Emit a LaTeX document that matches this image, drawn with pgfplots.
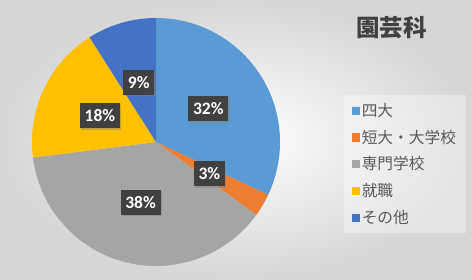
\documentclass[border=0pt]{standalone}
\usepackage{pgfplots}
\pgfplotsset{compat=1.18}
\usepackage{pgfplotstable}
\usepackage{fontspec}
\setmainfont{Carlito}
\newfontfamily\cjk{Noto Sans CJK JP}
\usetikzlibrary{shadows}
\definecolor{c0}{HTML}{5B9BD5}
\definecolor{c1}{HTML}{ED7D31}
\definecolor{c2}{HTML}{A5A5A5}
\definecolor{c3}{HTML}{FFC000}
\definecolor{c4}{HTML}{4472C4}
\definecolor{lblfill}{HTML}{404040}
\definecolor{txtgray}{HTML}{595959}
\definecolor{ttlgray}{HTML}{404040}
\tikzset{lbl/.style={fill=lblfill, text=white, font=\bfseries\fontsize{17.5}{20}\selectfont,
    inner xsep=4.8pt, minimum height=25pt,
    drop shadow={shadow xshift=1.5pt, shadow yshift=-1.5pt, opacity=0.45}}}
\pgfplotsset{sq/.style={legend image code/.code={\fill[#1, fill opacity=1] (0pt,-3.6pt) rectangle (7.2pt,3.6pt);}}}
\pgfplotstableread{
idx value
0 32
1 3
2 38
3 18
4 9
}\piedata
\begin{document}
\begin{tikzpicture}
\useasboundingbox (0pt,0pt) rectangle (472pt,-279pt);
\shade[inner color=white, outer color=black!16] (0pt,0pt) rectangle (472pt,-279pt);
\node[font=\cjk\bfseries\fontsize{23.5}{27}\selectfont, text=ttlgray] at (391.5pt,-28pt) {園芸科};
\begin{axis}[
  at={(156pt,-142pt)}, anchor=center,
  scale only axis, width=248pt, height=248pt,
  xmin=-1, xmax=1, ymin=-1, ymax=1,
  hide axis, clip=false,
  legend cell align=left,
  legend style={at={(1.258,0.6895)}, anchor=north west,
    fill=white, fill opacity=0.35, text opacity=1, draw=none,
    font=\cjk\fontsize{15.7}{19}\selectfont, text=txtgray,
    row sep=8pt, inner xsep=8pt, inner ysep=6pt,
    /tikz/every even column/.append style={column sep=3pt}},
]
\addlegendimage{sq=c0}
\addlegendentry{四大}
\addlegendimage{sq=c1}
\addlegendentry{短大・大学校}
\addlegendimage{sq=c2}
\addlegendentry{専門学校}
\addlegendimage{sq=c3}
\addlegendentry{就職}
\addlegendimage{sq=c4}
\addlegendentry{その他}
\def\cum{0}
\pgfplotsforeachungrouped \i in {0,...,4}{%
  \pgfplotstablegetelem{\i}{value}\of\piedata
  \let\v\pgfplotsretval
  \pgfmathsetmacro\a{90-3.6*\cum}%
  \pgfmathsetmacro\b{90-3.6*(\cum+\v)}%
  \edef\temp{\noexpand\fill[c\i] (axis cs:0,0) -- ++(\a:124pt) arc[start angle=\a, end angle=\b, radius=124pt] -- cycle;}%
  \temp
  \pgfmathsetmacro\cum{\cum+\v}%
}
\def\cum{0}
\pgfplotsforeachungrouped \i in {0,...,4}{%
  \pgfplotstablegetelem{\i}{value}\of\piedata
  \let\v\pgfplotsretval
  \pgfmathsetmacro\m{90-3.6*(\cum+\v/2)}%
  \edef\temp{\noexpand\path (axis cs:0,0) ++(\m:62pt) node[lbl] {\v\noexpand\%};}%
  \temp
  \pgfmathsetmacro\cum{\cum+\v}%
}
\end{axis}
\end{tikzpicture}
\end{document}
